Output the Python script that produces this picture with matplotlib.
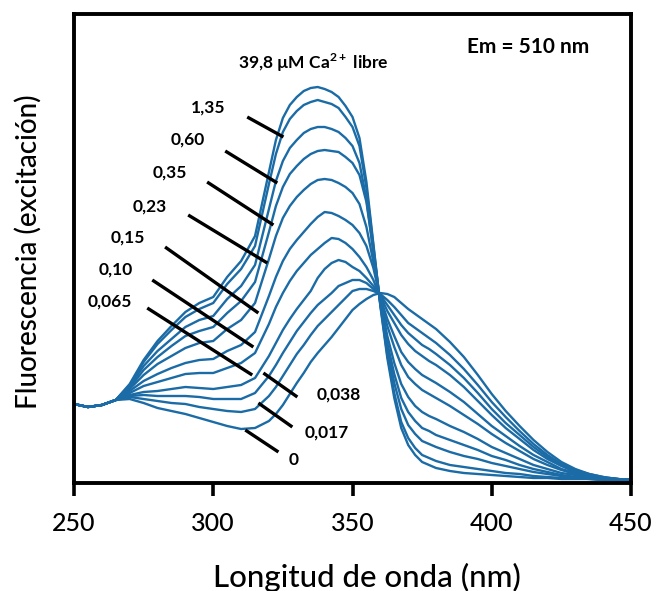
import matplotlib
matplotlib.use("Agg")
import matplotlib.pyplot as plt

plt.rcParams['font.family'] = ['Lato', 'DejaVu Sans']
plt.rcParams['mathtext.fontset'] = 'custom'
plt.rcParams['mathtext.rm'] = 'Lato'
plt.rcParams['mathtext.bf'] = 'Lato:bold'

wavelength = [250, 255, 260, 265, 270, 275, 280, 285, 290, 295, 300, 305, 310, 315, 320,
              322.5, 325, 327.5, 330, 332.5, 335, 337.5, 340, 342.5, 345, 347.5, 350,
              352.5, 355, 357.5, 360,
              362.5, 365, 367.5, 370, 372.5, 375, 377.5, 380,
              385, 390, 395, 400, 405, 410, 415, 420, 425, 430, 435, 440, 445, 450]

ca_0 = [79, 76, 78, 83, 84, 80, 75, 72, 69, 65, 61, 57, 54, 55, 62,
        69, 78, 89, 100, 110, 121, 130, 138, 146, 155, 164, 173, 179, 184, 188, 190,
        189, 186, 180, 174, 169, 164, 159, 154,
        141, 126, 108, 89, 72, 57, 43, 31, 21, 14, 9, 6, 4, 3]
ca_0017 = [79, 76, 78, 83, 86, 84, 82, 80, 79, 76, 74, 72, 71, 74, 87,
           96, 107, 118, 129, 138, 148, 157, 164, 171, 178, 185, 192, 194, 194, 192, 189,
           183, 176, 168, 160, 155, 150, 145, 140,
           128, 114, 98, 81, 66, 52, 39, 28, 19, 13, 9, 6, 4, 3]
ca_0038 = [79, 76, 78, 83, 87, 88, 87, 87, 87, 86, 84, 84, 84, 90, 107,
           118, 130, 141, 152, 161, 170, 178, 184, 190, 197, 200, 203, 203, 200, 194, 188,
           178, 168, 158, 150, 144, 138, 134, 129,
           118, 105, 90, 74, 60, 48, 36, 26, 18, 12, 8, 5, 4, 3]
ca_0065 = [79, 76, 78, 83, 88, 91, 92, 94, 96, 95, 94, 96, 98, 105, 127,
           140, 153, 164, 174, 183, 192, 205, 214, 220, 223, 221, 216, 212, 205, 197, 187,
           172, 160, 148, 139, 132, 127, 122, 118,
           108, 96, 82, 68, 55, 44, 33, 24, 17, 11, 8, 5, 4, 3]
ca_010 = [79, 76, 78, 83, 90, 97, 101, 105, 109, 110, 110, 115, 120, 130, 159,
          176, 190, 202, 212, 220, 228, 234, 240, 245, 244, 240, 234, 226, 216, 203, 185,
          164, 147, 131, 121, 114, 108, 104, 100,
          91, 81, 69, 57, 47, 37, 28, 21, 14, 10, 7, 5, 4, 3]
ca_015 = [79, 76, 78, 83, 92, 102, 109, 115, 120, 123, 124, 132, 138, 151, 187,
          206, 222, 234, 243, 251, 259, 266, 271, 270, 267, 263, 258, 250, 237, 215, 184,
          157, 136, 118, 106, 99, 93, 89, 85,
          77, 68, 59, 49, 40, 32, 24, 18, 13, 9, 7, 5, 4, 3]
ca_023 = [79, 76, 78, 83, 94, 108, 119, 127, 135, 140, 142, 154, 163, 180, 224,
          247, 265, 277, 286, 293, 299, 303, 304, 303, 300, 296, 290, 279, 256, 221, 182,
          147, 120, 99, 86, 77, 71, 67, 64,
          57, 51, 44, 36, 30, 24, 18, 14, 10, 8, 6, 4, 3, 3]
ca_035 = [79, 76, 78, 83, 95, 113, 126, 137, 147, 152, 156, 170, 182, 201, 251,
          277, 296, 309, 317, 324, 329, 332, 333, 332, 331, 326, 320, 308, 281, 232, 180,
          140, 109, 85, 71, 62, 55, 52, 48,
          43, 38, 33, 27, 23, 18, 14, 11, 8, 6, 5, 4, 3, 3]
ca_060 = [79, 76, 78, 83, 97, 117, 132, 144, 156, 163, 167, 184, 197, 218, 274,
          302, 322, 335, 343, 350, 354, 356, 356, 354, 351, 345, 337, 320, 284, 231, 179,
          135, 100, 74, 58, 49, 42, 39, 36,
          31, 27, 24, 20, 17, 14, 11, 9, 7, 6, 5, 3, 3, 3]
ca_135 = [79, 76, 78, 83, 98, 121, 139, 153, 166, 174, 180, 199, 214, 237, 299,
          329, 351, 364, 372, 378, 381, 383, 381, 379, 375, 366, 356, 337, 295, 237, 178,
          128, 90, 61, 45, 35, 28, 25, 22,
          18, 16, 14, 12, 10, 9, 7, 6, 5, 5, 4, 3, 3, 3]
ca_398 = [79, 76, 78, 83, 99, 123, 142, 157, 171, 180, 186, 206, 222, 247, 311,
          343, 365, 378, 386, 392, 395, 396, 394, 391, 386, 377, 366, 345, 301, 239, 177,
          125, 85, 55, 38, 28, 21, 18, 15,
          12, 10, 9, 8, 7, 6, 5, 5, 4, 4, 4, 3, 3, 3]

series = [ca_0, ca_0017, ca_0038, ca_0065, ca_010, ca_015, ca_023, ca_035, ca_060,
          ca_135, ca_398]

xticks = [250, 300, 350, 400, 450]
xlabel = "Longitud de onda (nm)"
ylabel = "Fluorescencia (excitación)"
top_label = r"39,8 µM Ca$^{\mathbf{2+}}$ libre"
em_label = "Em = 510 nm"

# label text, text position, leader line start, leader line end (data coords)
annotations = [
    ("1,35", (298.2, 375), (312.2, 366), (325.2, 346)),
    ("0,60", (291.0, 343), (304.3, 332), (323.0, 300)),
    ("0,35", (284.5, 310), (297.8, 301), (321.6, 258)),
    ("0,23", (277.3, 276), (291.0, 268), (319.4, 220)),
    ("0,15", (269.4, 245), (282.7, 236), (316.2, 170)),
    ("0,10", (265.1, 213), (278.1, 203), (314.4, 136)),
    ("0,065", (262.9, 181), (276.3, 175), (314.0, 108)),
    ("0,038", (345.0, 88), (318.0, 110), (330.2, 86)),
    ("0,017", (340.6, 50), (316.2, 80), (328.4, 56)),
    ("0", (328.8, 23), (311.5, 53), (323.4, 31)),
]

blue = "#1b6ba6"

fig = plt.figure(figsize=(6.57, 5.91), dpi=100)
ax = fig.add_axes([74 / 657, 1 - 483 / 591, (631 - 74) / 657, (483 - 14) / 591])

for s in series:
    ax.plot(wavelength, s, color=blue, lw=1.7, solid_joinstyle='round')

for txt, tpos, p0, p1 in annotations:
    ax.plot([p0[0], p1[0]], [p0[1], p1[1]], color='black', lw=2.4, solid_capstyle='butt')
    ax.text(tpos[0], tpos[1], txt, ha='center', va='center', fontsize=12.5,
            fontweight='bold')

ax.text(336.0, 420, top_label, ha='center', va='center', fontsize=12.5, fontweight='bold')
ax.text(413.0, 436, em_label, ha='center', va='center', fontsize=15, fontweight='bold')

ax.set_xlim(250, 450)
ax.set_ylim(0, 469)
ax.set_xticks(xticks)
ax.set_xticklabels([str(t) for t in xticks], fontweight='medium')
ax.set_yticks([])
ax.tick_params(axis='x', direction='out', length=9, width=2.6, labelsize=18, pad=12)
for sp in ax.spines.values():
    sp.set_linewidth(2.8)
    sp.set_color('black')

fig.text(367 / 657, 1 - 577 / 591, xlabel, ha='center', va='center', fontsize=22.5,
         fontweight='medium')
fig.text(28 / 657, 1 - 252 / 591, ylabel, ha='center', va='center', fontsize=20,
         fontweight='medium', rotation=90)

fig.savefig("out.png", dpi=100)
